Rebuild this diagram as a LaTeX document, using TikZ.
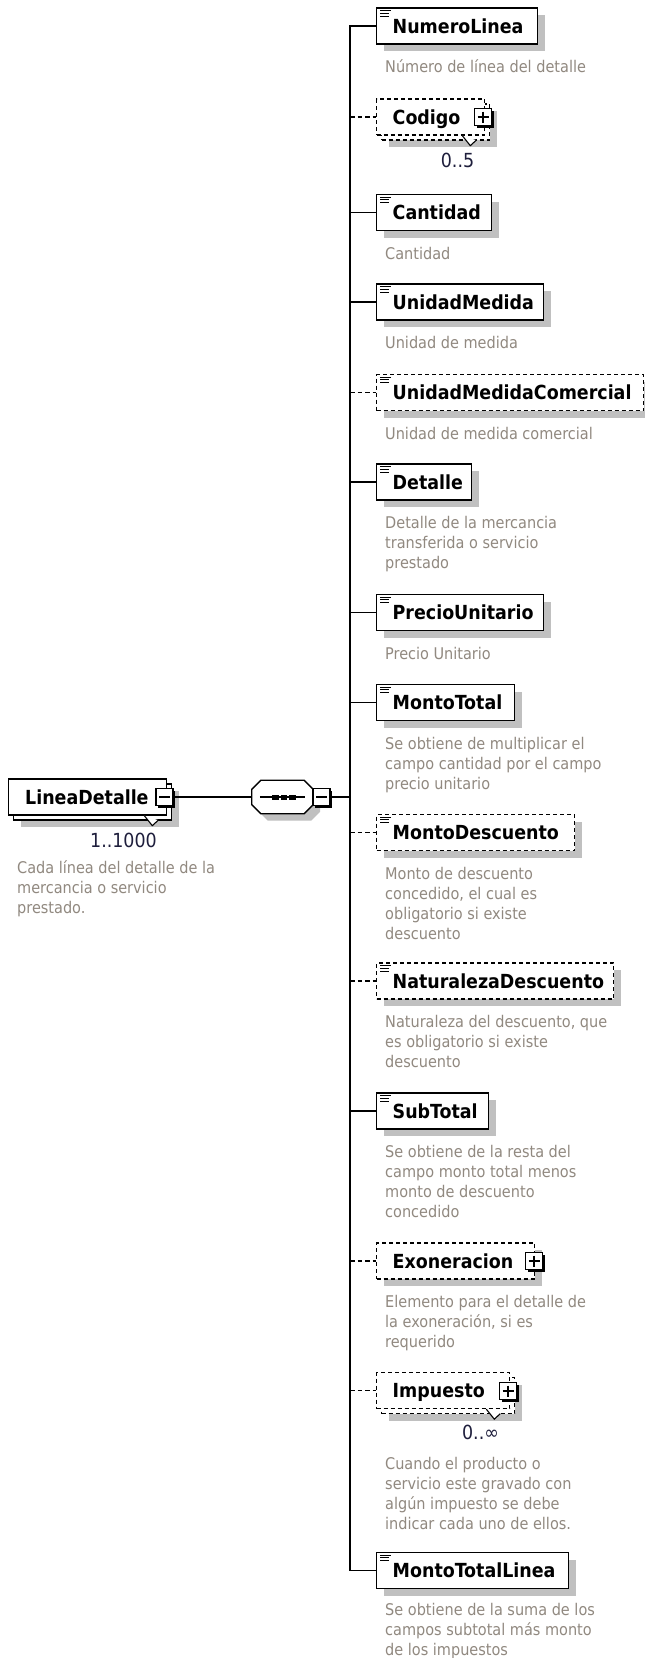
\documentclass[tikz,border=0pt]{standalone}
\usepackage{fontspec}
\usetikzlibrary{calc,shadows}
\IfFontExistsTF{DejaVu Sans Condensed}{%
  \setmainfont{DejaVu Sans Condensed}\def\nmsize{19.4}\def\dsize{16.1}%
}{%
  \setmainfont{DejaVu Sans}\def\nmsize{17.5}\def\dsize{14.5}%
}
\definecolor{shadowgray}{RGB}{192,192,192}
\definecolor{desccol}{RGB}{145,137,128}
\definecolor{multcol}{RGB}{30,30,60}
\newcommand\nfont{\fontsize{\nmsize}{24}\selectfont\bfseries}
\newcommand\mfont{\fontsize{\nmsize}{24}\selectfont}
\newcommand\dfont{\fontsize{\dsize}{20}\selectfont}
\newcommand\fstrut{\rule{0pt}{14pt}}

\tikzset{
  bx/.style={draw, line width=1.3pt, fill=white, minimum height=36pt, inner sep=0pt, anchor=west},
  shd/.style={drop shadow={shadow xshift=7pt, shadow yshift=-7pt, fill=shadowgray, opacity=1}},
  reqbox/.style={bx, shd},
  optbox/.style={bx, shd, dash pattern=on 4pt off 3pt},
  reqfront/.style={bx},
  optfront/.style={bx, dash pattern=on 4pt off 3pt},
  nm/.style={font=\nfont, inner sep=0pt, anchor=base west, text=black},
  desc/.style={font=\dfont, text=desccol, inner sep=0pt, anchor=north west, align=left},
  mult/.style={font=\mfont, text=multcol, inner sep=0pt, anchor=base},
  conn/.style={line width=1.3pt},
  optconn/.style={conn, dash pattern=on 4.5pt off 3pt},
  pmbox/.style={draw, line width=1.1pt, fill=white, minimum size=17pt, inner sep=0pt,
    drop shadow={shadow xshift=2pt, shadow yshift=-2pt, fill=black, opacity=1}},
  pmsign/.style={line width=1.2pt},
  iconline/.style={line width=0.9pt},
  notch/.style={line width=1.1pt, fill=white},
}

\newcommand\eicon[1]{%
  \draw[iconline] ($(#1.north west)+(4,3.2)$) -- ++(11,0);
  \draw[iconline] ($(#1.north west)+(4,6)$) -- ++(9,0);
  \draw[iconline] ($(#1.north west)+(4,8.8)$) -- ++(9,0);
}
\newcommand\child[5]{%
  \node[#4, minimum width=#3pt] (#1) at (376,#2) {};
  \node[nm] (#1t) at ($(#1.west)+(16.5,7.3)$) {#5};
}
\newcommand\cdesc[3]{%
  \node[desc] (#1) at ($(#2.south west)+(9,14)$) {\fstrut #3};
}
\newcommand\plussign[1]{%
  \draw[pmsign] ($(#1.center)+(-5.5,0)$) -- ($(#1.center)+(5.5,0)$)
                ($(#1.center)+(0,-5.5)$) -- ($(#1.center)+(0,5.5)$);
}
\newcommand\minussign[1]{%
  \draw[pmsign] ($(#1.center)+(-5.5,0)$) -- ($(#1.center)+(5.5,0)$);
}
\newcommand\octpath[2]{%
 ($(seq.north west)+(9+#1,#2)$) -- ($(seq.north east)+(-9+#1,#2)$) --
 ($(seq.north east)+(#1,9+#2)$) -- ($(seq.south east)+(#1,-9+#2)$) --
 ($(seq.south east)+(-9+#1,#2)$) -- ($(seq.south west)+(9+#1,#2)$) --
 ($(seq.south west)+(#1,-9+#2)$) -- ($(seq.north west)+(#1,9+#2)$) -- cycle}

\begin{document}
\begin{tikzpicture}[x=1pt,y=-1pt]
\useasboundingbox[fill=white] (0,0) rectangle (645,1658);
\coordinate (sp) at (350,0);

% ---- root element
\node[reqbox, minimum width=158pt] (ldb) at (13,802) {};
\node[reqfront, minimum width=158pt] (ld) at (8,797) {};
\node[nm] (ldt) at ($(ld.west)+(17,7.3)$) {LineaDetalle};
\draw[notch] ($(ld.south east)+(-23,0)$) -- ++(8,10) -- ++(6,-5.5);
\node[pmbox] (ldm) at (164.5,797) {};
\minussign{ldm}
\node[mult] (ldn) at (123.5,847) {1..1000};
\node[desc] (ldd) at (17,859.5) {\fstrut Cada línea del detalle de la\\mercancia o servicio\\prestado.};

% ---- sequence compositor
\node[minimum width=61pt, minimum height=33pt, inner sep=0pt] (seq) at (282.5,797) {};
\fill[shadowgray] \octpath{7}{7};
\draw[conn, fill=white] \octpath{0}{0};
\draw[conn] ($(seq.west)+(8,0)$) -- ($(seq.east)+(-8,0)$);
\foreach \dx in {-7,1.5,10}
  \fill ($(seq.center)+(\dx-3.3,-2.5)$) rectangle ($(seq.center)+(\dx+3.3,2.5)$);
\node[pmbox] (seqm) at (321.5,797) {};
\minussign{seqm}
\draw[conn] (ldm.east) -- (seq.west);
\draw[conn] (seqm.east) -- (seqm.east -| sp);

% ---- children
\child{c1}{26}{161}{reqbox}{NumeroLinea}\eicon{c1}
\cdesc{c1d}{c1}{Número de línea del detalle}

\node[optbox, minimum width=108pt] (c2b) at (381,122) {};
\node[optfront, minimum width=108pt] (c2) at (376,117) {};
\node[nm] (c2t) at ($(c2.west)+(16.5,7.3)$) {Codigo};
\draw[notch] ($(c2.south east)+(-23,0)$) -- ++(8,10) -- ++(6,-5.5);
\node[pmbox] (c2p) at (483,117) {};
\plussign{c2p}
\node[mult] (c2n) at (457.5,167) {0..5};

\child{c3}{212.5}{115}{reqbox}{Cantidad}\eicon{c3}
\cdesc{c3d}{c3}{Cantidad}

\child{c4}{302}{167}{reqbox}{UnidadMedida}\eicon{c4}
\cdesc{c4d}{c4}{Unidad de medida}

\child{c5}{392.5}{267}{optbox}{UnidadMedidaComercial}\eicon{c5}
\cdesc{c5d}{c5}{Unidad de medida comercial}

\child{c6}{482}{95}{reqbox}{Detalle}\eicon{c6}
\cdesc{c6d}{c6}{Detalle de la mercancia\\transferida o servicio\\prestado}

\child{c7}{612.5}{167}{reqbox}{PrecioUnitario}\eicon{c7}
\cdesc{c7d}{c7}{Precio Unitario}

\child{c8}{702.5}{138}{reqbox}{MontoTotal}\eicon{c8}
\cdesc{c8d}{c8}{Se obtiene de multiplicar el\\campo cantidad por el campo\\precio unitario}

\child{c9}{832.5}{198}{optbox}{MontoDescuento}\eicon{c9}
\cdesc{c9d}{c9}{Monto de descuento\\concedido, el cual es\\obligatorio si existe\\descuento}

\child{c10}{981}{237}{optbox}{NaturalezaDescuento}\eicon{c10}
\cdesc{c10d}{c10}{Naturaleza del descuento, que\\es obligatorio si existe\\descuento}

\child{c11}{1111}{112}{reqbox}{SubTotal}\eicon{c11}
\cdesc{c11d}{c11}{Se obtiene de la resta del\\campo monto total menos\\monto de descuento\\concedido}

\child{c12}{1261}{158}{optbox}{Exoneracion}
\node[pmbox] (c12p) at (534,1261) {};
\plussign{c12p}
\cdesc{c12d}{c12}{Elemento para el detalle de\\la exoneración, si es\\requerido}

\node[optbox, minimum width=133pt] (c13b) at (381,1395.5) {};
\node[optfront, minimum width=133pt] (c13) at (376,1390.5) {};
\node[nm] (c13t) at ($(c13.west)+(16.5,7.3)$) {Impuesto};
\draw[notch] ($(c13.south east)+(-24,0)$) -- ++(8,10) -- ++(6,-5.5);
\node[pmbox] (c13p) at (508,1391) {};
\plussign{c13p}
\node[mult] (c13n) at (480.5,1439) {0..∞};
\node[desc] (c13d) at ($(c13.south west)+(9,46)$) {\fstrut Cuando el producto o\\servicio este gravado con\\algún impuesto se debe\\indicar cada uno de ellos.};

\child{c14}{1570.5}{192}{reqbox}{MontoTotalLinea}\eicon{c14}
\node[desc] (c14d) at ($(c14.south west)+(9,12.5)$) {\fstrut Se obtiene de la suma de los\\campos subtotal más monto\\de los impuestos};

% ---- connectors
\draw[conn] (c1.west) -- (c1.west -| sp) -- (c14.west -| sp) -- (c14.west);
\foreach \c in {c3,c4,c6,c7,c8,c11}
  \draw[conn] (\c.west -| sp) -- (\c.west);
\foreach \c in {c2,c5,c9,c10,c12,c13}
  \draw[optconn] (\c.west -| sp) -- (\c.west);
\end{tikzpicture}
\end{document}
